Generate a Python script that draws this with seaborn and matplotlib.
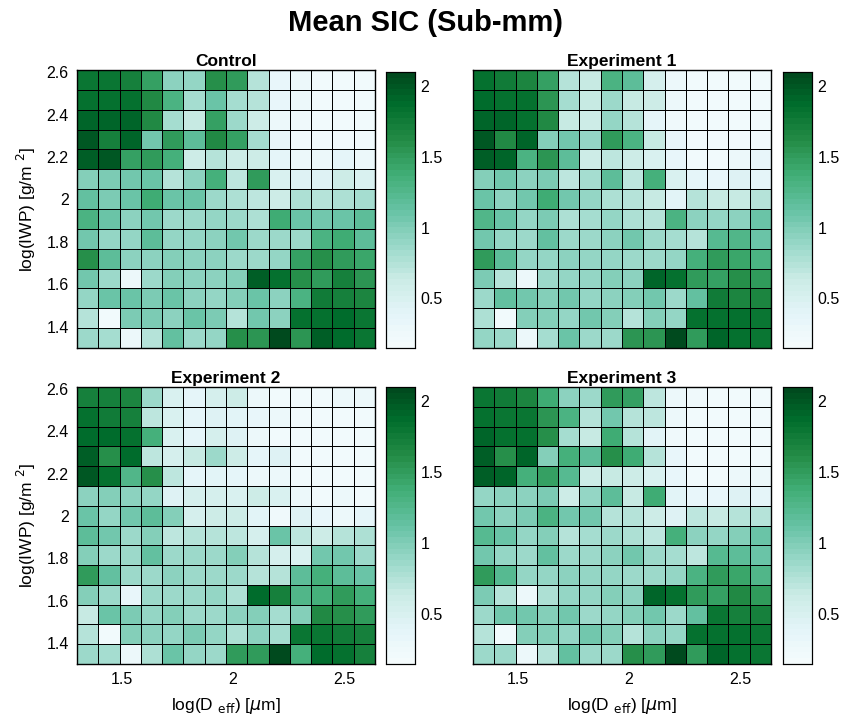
import numpy as np
import matplotlib
matplotlib.use("Agg")
import matplotlib.pyplot as plt
import seaborn as sns
from matplotlib.colors import ListedColormap

# bin edges (log10 units)
x_edges = np.linspace(1.30, 2.64, 15)   # log(D_eff)
y_edges = np.linspace(1.30, 2.61, 15)   # log(IWP)
x_ticks = [1.5, 2.0, 2.5]
x_ticklabels = ["1.5", "2", "2.5"]
y_ticks = [1.4, 1.6, 1.8, 2.0, 2.2, 2.4, 2.6]
y_ticklabels = ["1.4", "1.6", "1.8", "2", "2.2", "2.4", "2.6"]
cbar_ticks = [0.5, 1.0, 1.5, 2.0]
cbar_ticklabels = ["0.5", "1", "1.5", "2"]
vmin, vmax = 0.15, 2.10

titles = ["Control", "Experiment 1", "Experiment 2", "Experiment 3"]

# rows listed from top (high IWP) to bottom (low IWP)
control = [
    [1.80, 1.80, 1.72, 1.45, 0.95, 0.90, 1.58, 1.52, 0.72, 0.35, 0.28, 0.20, 0.20, 0.22],
    [1.85, 1.82, 1.85, 1.62, 1.30, 0.82, 1.10, 0.82, 0.75, 0.35, 0.28, 0.20, 0.20, 0.22],
    [1.92, 1.90, 1.90, 1.62, 0.82, 0.65, 1.48, 0.85, 0.60, 0.30, 0.25, 0.20, 0.20, 0.22],
    [1.98, 1.70, 1.92, 1.05, 1.50, 1.20, 1.65, 1.48, 0.80, 0.35, 0.20, 0.20, 0.20, 0.20],
    [1.95, 1.98, 1.45, 1.52, 1.35, 0.62, 0.75, 0.62, 0.62, 0.38, 0.28, 0.30, 0.38, 0.30],
    [0.98, 1.02, 1.05, 1.10, 0.75, 0.95, 1.35, 0.70, 1.52, 0.50, 0.45, 0.45, 0.62, 0.50],
    [1.15, 1.02, 1.10, 1.38, 1.10, 1.10, 0.88, 0.78, 0.70, 0.62, 0.78, 0.75, 0.78, 0.82],
    [1.30, 1.10, 0.95, 1.05, 0.85, 0.88, 0.90, 0.85, 0.78, 1.40, 1.10, 1.05, 1.10, 1.20],
    [1.05, 0.92, 0.90, 1.20, 0.90, 0.90, 0.95, 1.08, 0.88, 0.88, 0.85, 1.30, 1.38, 1.20],
    [1.58, 1.20, 0.95, 0.95, 1.00, 0.95, 0.95, 0.88, 0.88, 0.92, 1.45, 1.58, 1.52, 1.42],
    [1.05, 0.85, 0.30, 0.85, 1.00, 0.95, 0.95, 0.98, 1.95, 1.82, 1.60, 1.50, 1.70, 1.55],
    [0.90, 1.10, 1.10, 1.02, 1.10, 0.95, 0.92, 0.98, 1.12, 0.95, 1.30, 1.75, 1.70, 1.68],
    [0.72, 0.20, 1.02, 1.02, 0.95, 1.10, 1.02, 0.72, 1.05, 0.95, 1.85, 1.82, 1.88, 1.80],
    [0.88, 0.82, 0.30, 0.75, 1.15, 0.85, 0.90, 1.60, 1.55, 2.10, 1.55, 1.95, 1.88, 1.80],
]

experiment1 = [
    [1.82, 1.75, 1.68, 1.45, 0.75, 0.65, 1.30, 1.20, 0.55, 0.30, 0.22, 0.20, 0.20, 0.20],
    [1.88, 1.82, 1.82, 1.55, 0.82, 0.65, 0.85, 0.65, 0.62, 0.30, 0.22, 0.20, 0.20, 0.20],
    [1.92, 1.90, 1.85, 1.65, 0.65, 0.60, 0.90, 0.72, 0.38, 0.25, 0.20, 0.20, 0.20, 0.20],
    [1.98, 1.62, 1.92, 1.00, 1.05, 0.90, 1.50, 1.30, 0.65, 0.35, 0.20, 0.20, 0.20, 0.20],
    [1.95, 1.92, 1.32, 1.55, 1.20, 0.62, 0.68, 0.60, 0.50, 0.35, 0.22, 0.20, 0.28, 0.32],
    [1.00, 1.05, 0.95, 1.02, 0.68, 0.82, 1.18, 0.68, 1.35, 0.50, 0.38, 0.35, 0.45, 0.38],
    [1.10, 0.95, 1.05, 1.38, 1.08, 0.92, 0.78, 0.72, 0.65, 0.40, 0.72, 0.65, 0.65, 0.72],
    [1.28, 1.10, 0.92, 1.02, 0.78, 0.82, 0.90, 0.78, 0.72, 1.30, 0.95, 0.90, 0.95, 1.10],
    [1.05, 0.92, 0.85, 1.15, 0.85, 0.88, 0.95, 1.05, 0.85, 0.82, 0.75, 1.22, 1.25, 1.10],
    [1.50, 1.20, 0.90, 0.90, 0.95, 0.90, 0.92, 0.88, 0.85, 0.92, 1.35, 1.50, 1.42, 1.30],
    [1.02, 0.75, 0.30, 0.85, 0.92, 0.92, 1.00, 0.95, 1.90, 1.82, 1.50, 1.45, 1.60, 1.50],
    [0.85, 1.15, 1.05, 1.00, 1.05, 0.92, 0.95, 0.98, 1.05, 0.85, 1.15, 1.75, 1.68, 1.68],
    [0.78, 0.20, 0.98, 0.98, 0.92, 1.05, 0.98, 0.75, 0.98, 0.90, 1.82, 1.82, 1.85, 1.80],
    [0.90, 0.85, 0.30, 0.80, 1.12, 0.88, 0.85, 1.55, 1.55, 2.10, 1.50, 1.90, 1.85, 1.80],
]

experiment2 = [
    [1.72, 1.72, 1.68, 0.85, 0.50, 0.38, 0.55, 0.60, 0.30, 0.22, 0.20, 0.20, 0.28, 0.30],
    [1.82, 1.75, 1.72, 0.70, 0.50, 0.38, 0.45, 0.40, 0.35, 0.30, 0.20, 0.20, 0.20, 0.20],
    [1.88, 1.88, 1.85, 1.35, 0.50, 0.38, 0.55, 0.45, 0.30, 0.22, 0.20, 0.20, 0.20, 0.20],
    [1.95, 1.60, 1.88, 0.70, 0.55, 0.65, 0.85, 0.60, 0.38, 0.45, 0.20, 0.20, 0.20, 0.20],
    [1.98, 1.85, 1.28, 1.58, 0.68, 0.38, 0.40, 0.38, 0.30, 0.28, 0.20, 0.20, 0.22, 0.20],
    [0.95, 1.00, 0.95, 0.92, 0.45, 0.55, 0.55, 0.50, 0.60, 0.50, 0.30, 0.20, 0.28, 0.22],
    [1.10, 0.92, 1.05, 1.20, 1.00, 0.55, 0.62, 0.60, 0.42, 0.25, 0.45, 0.35, 0.30, 0.38],
    [1.20, 1.05, 0.88, 1.00, 0.68, 0.72, 0.72, 0.68, 0.55, 1.10, 0.68, 0.62, 0.72, 0.78],
    [1.00, 0.88, 0.85, 1.15, 0.85, 0.85, 0.88, 1.00, 0.72, 0.55, 0.50, 1.05, 1.05, 0.88],
    [1.50, 1.15, 0.88, 0.85, 0.95, 0.85, 0.85, 0.85, 0.72, 0.72, 1.18, 1.35, 1.20, 1.10],
    [0.98, 0.85, 0.35, 0.85, 0.88, 0.85, 0.92, 0.78, 1.88, 1.72, 1.28, 1.35, 1.50, 1.35],
    [0.65, 1.10, 1.02, 0.92, 1.00, 0.88, 0.88, 0.95, 1.00, 0.80, 1.00, 1.65, 1.60, 1.52],
    [0.75, 0.20, 0.98, 0.95, 0.92, 1.02, 0.92, 0.78, 0.95, 0.80, 1.80, 1.78, 1.75, 1.72],
    [0.85, 0.82, 0.28, 0.78, 1.12, 0.90, 0.85, 1.50, 1.50, 2.10, 1.35, 1.88, 1.82, 1.72],
]

experiment3 = [
    [1.78, 1.75, 1.68, 1.40, 0.95, 0.88, 1.50, 1.48, 0.68, 0.28, 0.25, 0.20, 0.20, 0.20],
    [1.85, 1.78, 1.80, 1.55, 1.30, 0.75, 1.05, 0.75, 0.68, 0.28, 0.20, 0.20, 0.20, 0.20],
    [1.92, 1.85, 1.85, 1.60, 0.80, 0.65, 1.38, 0.75, 0.42, 0.25, 0.20, 0.20, 0.20, 0.20],
    [1.95, 1.60, 1.92, 1.00, 1.35, 1.18, 1.58, 1.38, 0.72, 0.32, 0.20, 0.20, 0.20, 0.20],
    [1.95, 1.92, 1.35, 1.48, 1.22, 0.60, 0.65, 0.60, 0.50, 0.32, 0.22, 0.20, 0.28, 0.30],
    [0.90, 0.95, 0.95, 1.02, 0.62, 0.90, 1.20, 0.65, 1.38, 0.42, 0.35, 0.35, 0.45, 0.38],
    [1.05, 0.95, 1.02, 1.30, 1.05, 1.05, 0.75, 0.72, 0.62, 0.45, 0.68, 0.65, 0.72, 0.72],
    [1.22, 1.10, 0.90, 1.00, 0.75, 0.80, 0.88, 0.78, 0.68, 1.35, 0.95, 0.90, 1.00, 1.10],
    [1.05, 0.92, 0.85, 1.15, 0.85, 0.88, 0.95, 1.05, 0.85, 0.82, 0.70, 1.22, 1.20, 1.12],
    [1.52, 1.22, 0.90, 0.90, 0.95, 0.90, 0.92, 0.88, 0.85, 0.90, 1.32, 1.52, 1.42, 1.28],
    [1.02, 0.75, 0.30, 0.78, 0.92, 0.92, 0.98, 0.95, 1.92, 1.82, 1.52, 1.48, 1.62, 1.52],
    [0.85, 1.08, 1.05, 1.00, 1.05, 0.88, 0.92, 0.98, 1.05, 0.85, 1.15, 1.78, 1.70, 1.70],
    [0.75, 0.20, 0.98, 0.98, 0.92, 1.08, 0.98, 0.75, 0.95, 0.92, 1.85, 1.85, 1.85, 1.78],
    [0.85, 0.85, 0.30, 0.75, 1.15, 0.85, 0.85, 1.58, 1.50, 2.10, 1.50, 1.90, 1.85, 1.80],
]

datasets = [control, experiment1, experiment2, experiment3]

sns.set_theme(style="white")
plt.rcParams['font.family'] = ['Liberation Sans', 'DejaVu Sans']
plt.rcParams['mathtext.fontset'] = 'dejavusans'
for key in ['text.color', 'axes.labelcolor', 'xtick.color', 'ytick.color']:
    plt.rcParams[key] = 'black'

cmap = ListedColormap(sns.color_palette("BuGn", 48))

fig = plt.figure(figsize=(8.5, 7.25), dpi=100)
W, H = 850.0, 725.0
# pixel boxes: (left, top, right, bottom)
ax_boxes = [(77, 70, 375, 348), (473, 70, 771, 348),
            (77, 387, 375, 664), (473, 387, 771, 664)]
cb_boxes = [(386, 72, 415, 348), (783, 72, 812, 348),
            (386, 387, 415, 664), (783, 387, 812, 664)]

def frac(b):
    l, t, r, bt = b
    return [l / W, 1 - bt / H, (r - l) / W, (bt - t) / H]

dx = x_edges[1] - x_edges[0]
dy = y_edges[1] - y_edges[0]
ytop = y_edges[-1]

for i, (data, title) in enumerate(zip(datasets, titles)):
    ax = fig.add_axes(frac(ax_boxes[i]))
    cax = fig.add_axes(frac(cb_boxes[i]))
    sns.heatmap(np.array(data), ax=ax, cbar_ax=cax, cmap=cmap, vmin=vmin, vmax=vmax,
                linewidths=0.6, linecolor="black", square=False,
                xticklabels=False, yticklabels=False)
    for s in ax.spines.values():
        s.set_visible(True)
        s.set_color("black")
        s.set_linewidth(1.0)
    ax.set_title(title, fontsize=12.5, fontweight="bold", pad=3)
    xt = [(v - x_edges[0]) / dx for v in x_ticks]
    yt = [(ytop - v) / dy for v in y_ticks]
    ax.set_xticks(xt)
    ax.set_yticks(yt)
    row, col = divmod(i, 2)
    if row == 1:
        ax.set_xticklabels(x_ticklabels, fontsize=11.5)
        ax.set_xlabel(r"log(D $_{\rm eff}$) [$\mu$m]", fontsize=12.5, labelpad=6)
    else:
        ax.set_xticklabels([])
    if col == 0:
        ax.set_yticklabels(y_ticklabels, fontsize=11.5, rotation=0)
        ax.set_ylabel(r"log(IWP) [g/m $^{2}$]", fontsize=12.5, labelpad=6)
    else:
        ax.set_yticklabels([])
    ax.tick_params(length=0, pad=6)
    cax.set_yticks(cbar_ticks)
    cax.set_yticklabels(cbar_ticklabels, fontsize=11.5)
    cax.tick_params(length=3, width=0.8, direction="in", pad=4, color="black")
    for s in cax.spines.values():
        s.set_visible(True)
        s.set_color("black")
        s.set_linewidth(0.8)

fig.suptitle("Mean SIC (Sub-mm)", fontsize=21, fontweight="bold", y=0.988)
fig.savefig("out.png", dpi=100)
